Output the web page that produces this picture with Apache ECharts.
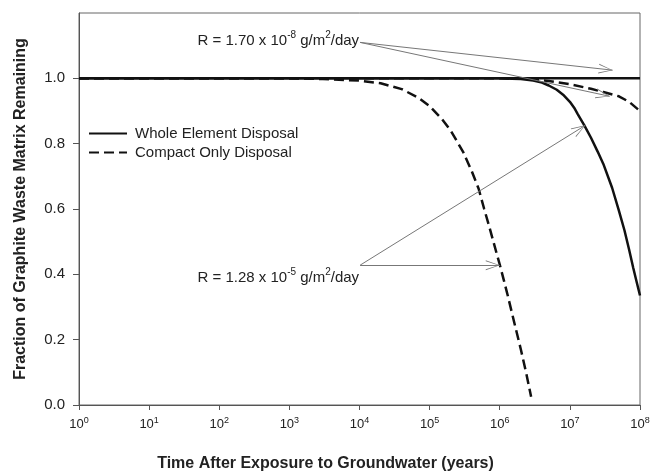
<!DOCTYPE html>
<html>
<head>
<meta charset="utf-8">
<script src="https://cdn.jsdelivr.net/npm/echarts@6/dist/echarts.min.js"></script>
<style>
  html, body { margin: 0; padding: 0; background: #fff; }
  #chart { width: 650px; height: 473px; }
</style>
</head>
<body>
<div id="chart"></div>
<script>
// time after exposure (years) and fraction remaining
const wholeFastT = [1, 10, 100, 1e3, 1e4, 1e5, 1e6, 1.5e6, 2e6, 3e6, 4e6, 5e6, 6.5e6, 8e6, 1e7, 1.15e7, 1.3e7, 1.6e7, 2e7, 2.5e7, 3e7, 4e7, 5e7, 6e7, 7e7, 8e7, 9e7, 1e8];
const wholeFastY = [1, 1, 1, 1, 1, 1, 1, 0.999, 0.998, 0.993, 0.987, 0.978, 0.965, 0.95, 0.928, 0.91, 0.89, 0.857, 0.818, 0.775, 0.738, 0.665, 0.595, 0.535, 0.475, 0.42, 0.375, 0.335];

const compactFastT = [1, 10, 100, 1e3, 3e3, 1e4, 2e4, 4e4, 7e4, 1e5, 1.5e5, 2e5, 3e5, 4e5, 5e5, 6e5, 7e5, 8e5, 9e5, 1e6, 1.15e6, 1.3e6, 1.6e6, 2e6, 2.4e6, 2.8e6];
const compactFastY = [1, 1, 1, 1, 0.998, 0.993, 0.985, 0.967, 0.94, 0.915, 0.875, 0.84, 0.775, 0.715, 0.662, 0.6, 0.55, 0.505, 0.465, 0.43, 0.38, 0.335, 0.255, 0.17, 0.095, 0.025];

const wholeSlowT = [1, 10, 100, 1e3, 1e4, 1e5, 1e6, 1e7, 1e8];
const wholeSlowY = [1, 1, 1, 1, 1, 1, 1, 1, 1];

const compactSlowT = [1, 10, 100, 1e3, 1e4, 1e5, 1e6, 2e6, 3e6, 5e6, 1e7, 2e7, 3e7, 5e7, 7e7, 1e8];
const compactSlowY = [1, 1, 1, 1, 1, 1, 1, 0.999, 0.997, 0.992, 0.982, 0.968, 0.958, 0.945, 0.928, 0.9];

const xTicks = [1, 10, 100, 1e3, 1e4, 1e5, 1e6, 1e7, 1e8];
const yTicks = [0, 0.2, 0.4, 0.6, 0.8, 1.0];

// annotation anchors, in data units [years, fraction]
const slowLabelAt = [1.02e4, 1.11];
const slowArrowEnds = [[4.07e7, 1.025], [3.7e7, 0.945]];
const fastLabelAt = [1.02e4, 0.428];
const fastArrowEnds = [[1e6, 0.428], [1.66e7, 0.856]];

const zip = (xs, ys) => xs.map((x, i) => [x, ys[i]]);

const chevron = 'path://M0,14 L5,0 L10,14 L9,14 L5,1.5 L1,14 Z';
const arrows = (from, ends) => ends.map(e => [{ coord: from }, { coord: e }]);

const annoRich = {
  n: { fontSize: 15, color: '#222', fontFamily: 'Liberation Sans', verticalAlign: 'bottom', lineHeight: 18 },
  s: { fontSize: 10, color: '#222', fontFamily: 'Liberation Sans', verticalAlign: 'top', lineHeight: 18 }
};

const solid = { color: '#111', width: 2.5, type: 'solid' };
const dashed = { color: '#111', width: 2.5, type: [10, 5] };

const chart = echarts.init(document.getElementById('chart'));
chart.setOption({
  backgroundColor: '#fff',
  animation: false,
  textStyle: { fontFamily: 'Liberation Sans' },
  grid: {
    left: 79, right: 10, top: 13, bottom: 68, outerBoundsMode: 'none',
    show: true, borderColor: '#666', borderWidth: 1
  },
  legend: {
    data: ['Whole Element Disposal', 'Compact Only Disposal'],
    orient: 'vertical',
    left: 83, top: 121,
    itemWidth: 38, itemHeight: 14, itemGap: 4,
    itemStyle: { opacity: 0 },
    textStyle: { fontSize: 15, color: '#222', padding: [0, 0, 0, 3] }
  },
  xAxis: {
    type: 'log', logBase: 10, min: 1, max: 1e8, splitNumber: 8,
    name: 'Time After Exposure to Groundwater (years)',
    nameLocation: 'middle', nameGap: 51,
    nameTextStyle: { fontSize: 16, fontWeight: 'bold', color: '#222', padding: [0, 68, 0, 0] },
    axisLine: { lineStyle: { color: '#555', width: 1 } },
    axisTick: { inside: false, length: 5, lineStyle: { color: '#555' }, customValues: xTicks },
    minorTick: { show: false },
    splitLine: { show: false },
    axisLabel: {
      margin: 11, customValues: xTicks,
      formatter: v => '{b|10}{s|' + Math.round(Math.log10(v)) + '}',
      rich: {
        b: { fontSize: 13, color: '#222', verticalAlign: 'bottom', lineHeight: 15 },
        s: { fontSize: 9, color: '#222', verticalAlign: 'top', lineHeight: 15 }
      }
    }
  },
  yAxis: {
    type: 'value', min: 0, max: 1.2, interval: 0.2,
    name: 'Fraction of Graphite Waste Matrix Remaining',
    nameLocation: 'middle', nameGap: 50,
    nameTextStyle: { fontSize: 16, fontWeight: 'bold', color: '#222' },
    axisLine: { show: true, lineStyle: { color: '#555', width: 1 } },
    axisTick: { show: true, length: 6, lineStyle: { color: '#555' }, customValues: yTicks },
    splitLine: { show: false },
    axisLabel: { fontSize: 15, color: '#222', margin: 14, customValues: yTicks, formatter: v => v.toFixed(1) }
  },
  series: [
    {
      name: 'Whole Element Disposal', type: 'line', data: zip(wholeSlowT, wholeSlowY),
      symbol: 'none', lineStyle: solid, itemStyle: { color: '#111' }, z: 2,
      markLine: {
        silent: true, symbol: ['none', chevron], symbolSize: [10, 14],
        symbolOffset: [0, [0, 7]],
        lineStyle: { color: '#777', width: 1, type: 'solid' },
        label: { show: false },
        data: arrows(slowLabelAt, slowArrowEnds).concat(arrows(fastLabelAt, fastArrowEnds))
      },
      markPoint: {
        silent: true, symbol: 'circle', symbolSize: 0,
        label: { show: true, position: 'left', distance: 1, rich: annoRich },
        data: [
          { coord: slowLabelAt, label: { formatter: '{n|R = 1.70 x 10}{s|-8}{n| g/m}{s|2}{n|/day}', offset: [0, -3] } },
          { coord: fastLabelAt, label: { formatter: '{n|R = 1.28 x 10}{s|-5}{n| g/m}{s|2}{n|/day}', offset: [0, 11] } }
        ]
      }
    },
    {
      name: 'Whole Element Disposal', type: 'line', data: zip(wholeFastT, wholeFastY),
      symbol: 'none', lineStyle: solid, itemStyle: { color: '#111' }, z: 3
    },
    {
      name: 'Compact Only Disposal', type: 'line', data: zip(compactFastT, compactFastY),
      symbol: 'none', lineStyle: dashed, itemStyle: { color: '#111' }, z: 4
    },
    {
      name: 'Compact Only Disposal', type: 'line', data: zip(compactSlowT, compactSlowY),
      symbol: 'none', lineStyle: dashed, itemStyle: { color: '#111' }, z: 4
    }
  ]
});
</script>
</body>
</html>
